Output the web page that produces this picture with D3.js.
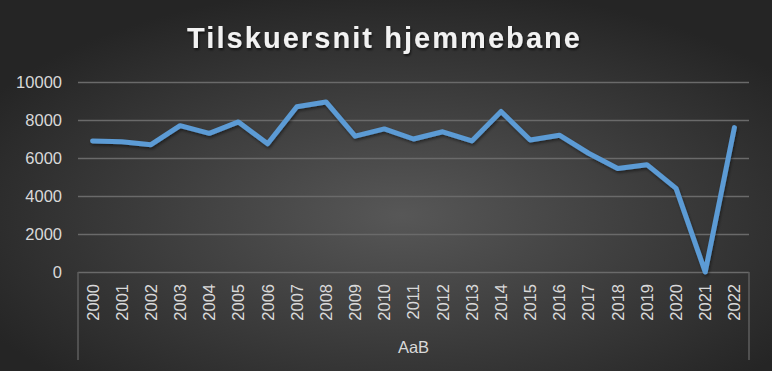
<!DOCTYPE html>
<html>
<head>
<meta charset="utf-8">
<script src="https://cdn.jsdelivr.net/npm/d3@7"></script>
<style>
  html, body { margin: 0; padding: 0; background: #262626; }
  svg { display: block; }
</style>
</head>
<body>
<svg id="chart" width="772" height="371"></svg>
<script>
const title = "Tilskuersnit hjemmebane";
const groupLabel = "AaB";
const years = ["2000","2001","2002","2003","2004","2005","2006","2007","2008","2009","2010","2011","2012","2013","2014","2015","2016","2017","2018","2019","2020","2021","2022"];
const values = [6900, 6850, 6700, 7700, 7300, 7900, 6750, 8700, 8950, 7150, 7530, 7000, 7380, 6900, 8450, 6950, 7200, 6250, 5450, 5650, 4400, 0, 7600];
const yTicks = [0, 2000, 4000, 6000, 8000, 10000];

const W = 772, H = 371;
const svg = d3.select("#chart");
const defs = svg.append("defs");

const grad = defs.append("radialGradient").attr("id", "bg")
  .attr("cx", "52%").attr("cy", "58%").attr("r", "62%");
grad.append("stop").attr("offset", "0%").attr("stop-color", "#575757");
grad.append("stop").attr("offset", "100%").attr("stop-color", "#252525");

const sh = defs.append("filter").attr("id", "shadow")
  .attr("x", "-10%").attr("y", "-10%").attr("width", "120%").attr("height", "130%");
sh.append("feDropShadow").attr("dx", 1).attr("dy", 2).attr("stdDeviation", 1.5)
  .attr("flood-color", "#000").attr("flood-opacity", 0.45);

const tsh = defs.append("filter").attr("id", "tshadow")
  .attr("x", "-5%").attr("y", "-20%").attr("width", "110%").attr("height", "150%");
tsh.append("feDropShadow").attr("dx", 1).attr("dy", 2).attr("stdDeviation", 1.2)
  .attr("flood-color", "#000").attr("flood-opacity", 0.6);

svg.append("rect").attr("width", W).attr("height", H).attr("fill", "url(#bg)");

const pLeft = 78, pRight = 749, pTop = 82, pBottom = 272;
const x = d3.scaleBand().domain(years).range([pLeft, pRight]);
const y = d3.scaleLinear().domain([0, 10000]).range([pBottom, pTop]);

const font = "'Liberation Sans', Arial, sans-serif";
const textColor = "#d9d9d9";

// Title
svg.append("text")
  .attr("x", 383.5).attr("y", 48)
  .attr("text-anchor", "middle")
  .attr("font-family", font).attr("font-weight", "bold").attr("font-size", 29)
  .attr("fill", "#f2f2f2")
  .attr("textLength", 393).attr("lengthAdjust", "spacing")
  .attr("filter", "url(#tshadow)")
  .text(title);

// Gridlines via axis
const yAxis = d3.axisLeft(y).tickValues(yTicks).tickSize(-(pRight - pLeft)).tickFormat(d => d);
const gy = svg.append("g").attr("transform", `translate(${pLeft},0)`).call(yAxis);
gy.select(".domain").remove();
gy.selectAll(".tick line").attr("stroke", "#6a6a6a").attr("stroke-width", 1.5);
gy.selectAll(".tick text")
  .attr("x", -16).attr("dy", "0.35em")
  .attr("font-family", font).attr("font-size", 16.5)
  .attr("fill", textColor);

// X axis (category labels)
const xAxis = d3.axisBottom(x).tickSize(0).tickPadding(0);
const gx = svg.append("g").attr("transform", `translate(0,${pBottom})`).call(xAxis);
gx.select(".domain").remove();
gx.selectAll(".tick text")
  .attr("transform", "rotate(-90)")
  .attr("text-anchor", "end")
  .attr("x", -12).attr("y", 0).attr("dy", "0.36em")
  .attr("font-family", font).attr("font-size", 16.5)
  .attr("fill", textColor);

// Group separators
[pLeft, pRight].forEach(xx => {
  svg.append("line").attr("x1", xx).attr("x2", xx).attr("y1", pBottom).attr("y2", 360)
    .attr("stroke", "#5e5e5e").attr("stroke-width", 1.5);
});

svg.append("text")
  .attr("x", (pLeft + pRight) / 2).attr("y", 353)
  .attr("text-anchor", "middle")
  .attr("font-family", font).attr("font-size", 16.5)
  .attr("fill", textColor)
  .text(groupLabel);

// Line
const line = d3.line()
  .x((d, i) => x(years[i]) + x.bandwidth() / 2)
  .y(d => y(d));

svg.append("path")
  .datum(values)
  .attr("d", line)
  .attr("fill", "none")
  .attr("stroke", "#5b9bd5")
  .attr("stroke-width", 5)
  .attr("stroke-linejoin", "round")
  .attr("stroke-linecap", "round")
  .attr("filter", "url(#shadow)");
</script>
</body>
</html>
